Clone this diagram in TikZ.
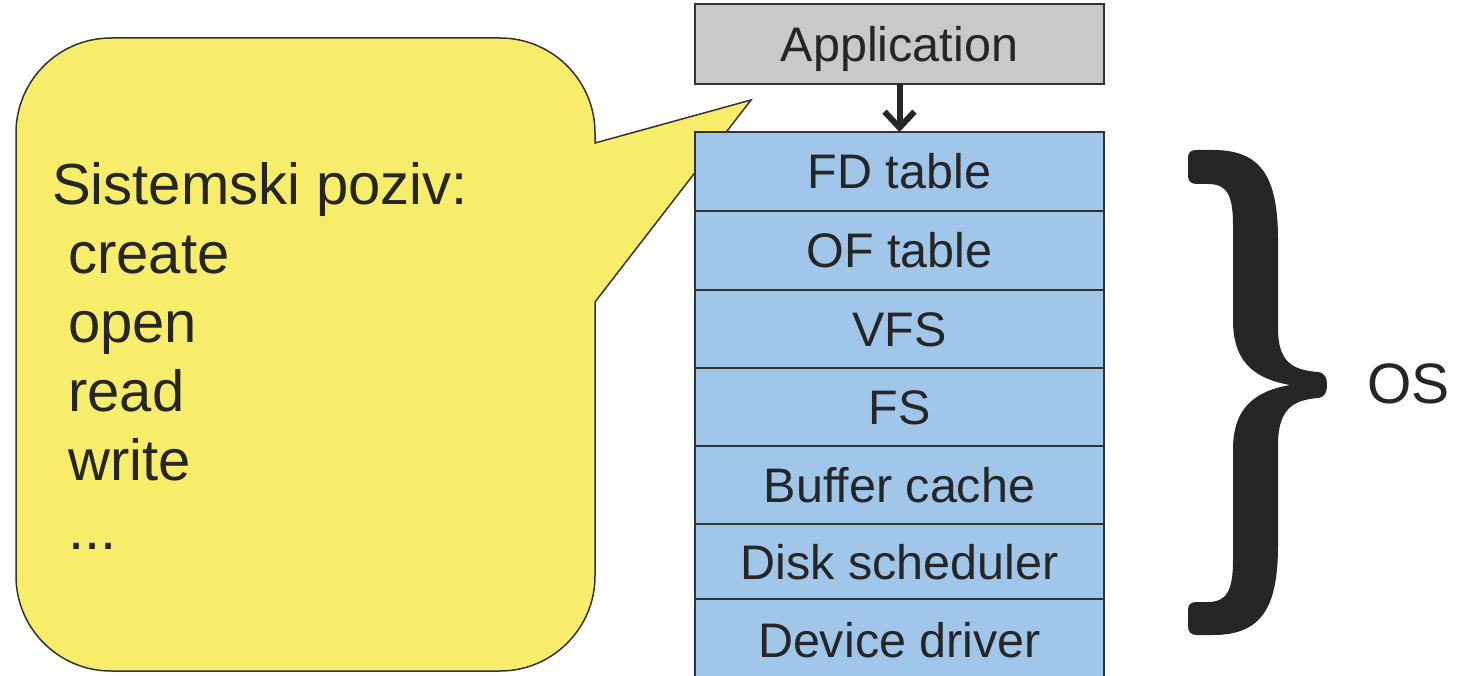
\documentclass[tikz,border=0pt]{standalone}
\usepackage{fontspec}
\setmainfont{Liberation Sans}
\usetikzlibrary{arrows.meta}
\definecolor{ink}{HTML}{262626}
\definecolor{appgray}{HTML}{C9C9C9}
\definecolor{layerblue}{HTML}{A0C6EA}
\definecolor{bubble}{HTML}{F8ED6B}
\definecolor{edge}{HTML}{333333}
\begin{document}
\begin{tikzpicture}[x=1pt,y=-1pt,
  box/.style={draw=edge, line width=1.6pt, minimum width=409pt, inner sep=0pt, outer sep=0pt,
    text height=35pt, text depth=0pt, font=\fontsize{48.5}{58}\selectfont, text=ink, anchor=north},
  layer/.style={box, fill=layerblue},
  calltxt/.style={anchor=base west, inner sep=0pt, text=ink, font=\fontsize{58}{69}\selectfont}]
\useasboundingbox (0,0) rectangle (1458,676);
% callout bubble
\filldraw[fill=bubble, draw=edge, line width=1.5pt]
  (16,133) .. controls (16,80.6) and (58.6,38) .. (111,38)
  -- (500,38) .. controls (552.4,38) and (595,80.6) .. (595,133)
  -- (595,143) -- (751,100) -- (595,302)
  -- (595,576) .. controls (595,628.4) and (552.4,671) .. (500,671)
  -- (111,671) .. controls (58.6,671) and (16,628.4) .. (16,576) -- cycle;
\node[calltxt] (l1) at (52,205) {Sistemski poziv:};
\node[calltxt] (l2) at (68,273.8) {create};
\node[calltxt] (l3) at (68,342.6) {open};
\node[calltxt] (l4) at (68,411.4) {read};
\node[calltxt] (l5) at (68,480.2) {write};
\node[calltxt] (l6) at (68,549) {...};
% stack
\node[box, fill=appgray, minimum height=80pt] (app) at (899.5,4) {Application};
\node[layer, minimum height=79pt] (fd) at (899.5,132) {FD table};
\node[layer, minimum height=79pt] (of) at (899.5,211) {OF table};
\node[layer, minimum height=78pt] (vfs) at (899.5,290) {VFS};
\node[layer, minimum height=78pt] (fs) at (899.5,368) {FS};
\node[layer, minimum height=78pt] (buf) at (899.5,446) {Buffer cache};
\node[layer, minimum height=75pt] (disk) at (899.5,524) {Disk scheduler};
\node[layer, minimum height=82pt] (dev) at (899.5,599) {Device driver};
\draw[ink, line width=6pt, -{Straight Barb[length=16pt,width=30pt]}] (app.south) -- (fd.north);
% brace
\fill[ink] (1188,158) .. controls (1188,152) and (1191,150) .. (1197,150)
 -- (1213,150) .. controls (1262,150) and (1278,178) .. (1278,240)
 -- (1278,328) .. controls (1278,362) and (1292,370) .. (1318,372)
 .. controls (1325,373) and (1327,378) .. (1327,385)
 .. controls (1327,392) and (1325,397) .. (1318,398)
 .. controls (1292,400) and (1278,410) .. (1278,445)
 -- (1278,545) .. controls (1278,607) and (1262,635) .. (1213,635)
 -- (1197,635) .. controls (1191,635) and (1188,632) .. (1188,626)
 -- (1188,610) .. controls (1188,604) and (1191,602) .. (1197,602)
 -- (1208,602) .. controls (1227,602) and (1233,590) .. (1233,560)
 -- (1233,450) .. controls (1233,412) and (1250,392) .. (1290,385)
 .. controls (1250,378) and (1233,358) .. (1233,320)
 -- (1233,225) .. controls (1233,195) and (1227,184) .. (1208,184)
 -- (1197,184) .. controls (1191,184) and (1188,181) .. (1188,176) -- cycle;
\node[anchor=base west, inner sep=0pt, text=ink, font=\fontsize{57}{68}\selectfont] (os) at (1367,403) {OS};
\end{tikzpicture}
\end{document}
